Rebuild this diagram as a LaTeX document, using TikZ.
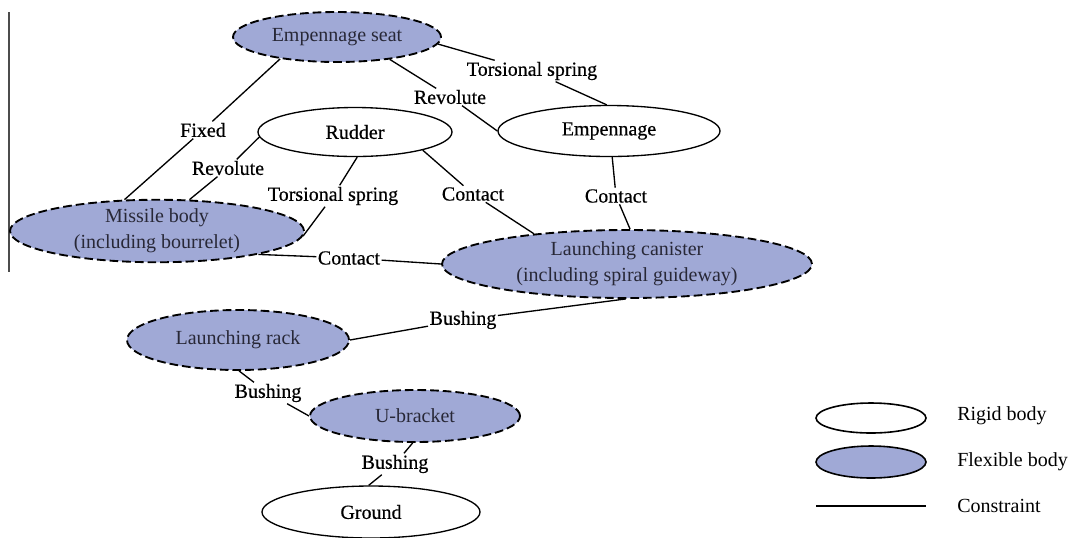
\documentclass[tikz,border=0pt]{standalone}
\usepackage{fontspec}
\setmainfont{Liberation Serif}
\newfontfamily\lblfont{Liberation Serif}[FakeBold=0.5]
\usetikzlibrary{shapes.geometric}
\definecolor{flex}{RGB}{160,169,214}
\definecolor{flextext}{RGB}{40,40,55}
\tikzset{
  body/.style={ellipse, draw, line width=1pt, inner sep=0pt, align=center,
    font=\fontsize{15}{19.5}\selectfont},
  rigid/.style={body, font=\lblfont\fontsize{15}{19.5}\selectfont},
  flexb/.style={body, fill=flex, line width=1.4pt, text=flextext, dash pattern=on 6.5pt off 3pt},
  lbl/.style={inner sep=1pt, font=\lblfont\fontsize{15}{18}\selectfont},
  con/.style={line width=1pt},
  legtxt/.style={anchor=west, inner sep=0pt, font=\fontsize{15}{18}\selectfont},
}
\begin{document}
\begin{tikzpicture}[x=0.75pt,y=-0.75pt]
\useasboundingbox (0,0) rectangle (1070,537);

% left edge line
\coordinate (vl1) at (9,12);
\coordinate (vl2) at (9,272);
\draw[line width=0.8pt, black!70] (vl1) -- (vl2);

% bodies
\node[flexb, minimum width=156pt, minimum height=37.5pt] (seat) at (337,37) {Empennage seat};
\node[rigid, minimum width=145.5pt, minimum height=36.75pt] (rud) at (355,132) {Rudder};
\node[rigid, minimum width=166.5pt, minimum height=38.25pt] (emp) at (609,131) {Empennage};
\node[flexb, minimum width=220.5pt, minimum height=46.5pt] (mis) at (157,231) {Missile body\\(including bourrelet)};
\node[flexb, minimum width=277.5pt, minimum height=51pt] (can) at (627,264) {Launching canister\\(including spiral guideway)};
\node[flexb, minimum width=166.5pt, minimum height=45pt] (rack) at (238,340) {Launching rack};
\node[flexb, minimum width=157.5pt, minimum height=39pt] (ub) at (415,416) {U-bracket};
\node[rigid, minimum width=163.5pt, minimum height=39pt] (gnd) at (371,512) {Ground};

% constraint labels
\node[lbl] (l1) at (532,71) {Torsional spring};
\node[lbl] (l2) at (450,97) {Revolute};
\node[lbl] (l3) at (203,130) {Fixed};
\node[lbl] (l4) at (228,168) {Revolute};
\node[lbl] (l5) at (333,196) {Torsional spring};
\node[lbl] (l6) at (473,194) {Contact};
\node[lbl] (l7) at (616,196) {Contact};
\node[lbl] (l8) at (349,258) {Contact};
\node[lbl] (l9) at (463,320) {Bushing};
\node[lbl] (l10) at (268,393) {Bushing};
\node[lbl] (l11) at (395,464) {Bushing};

% connectors
\draw[con] (seat.356) -- (l1) -- (emp.95);
\draw[con] (seat.337) -- (l2) -- (emp.180);
\draw[con] (seat.201) -- (l3) -- (mis.136);
\draw[con] (rud.183) -- (l4) -- (mis.44);
\draw[con] (rud.275) -- (l5) -- (mis.358);
\draw[con] (rud.345) -- (l6) -- (can.162);
\draw[con] (emp.277) -- (l7) -- (can.85);
\draw[con] (mis.347) -- (l8) -- (can.180);
\draw[con] (rack.0) -- (l9) -- (can.268);
\draw[con] (rack.272) -- (l10) -- (ub.180);
\draw[con] (ub.265) -- (l11) -- (gnd.95);

% legend
\node[ellipse, draw, line width=1.2pt, inner sep=0pt, minimum width=82.5pt, minimum height=22.5pt] (legr) at (871,418) {};
\node[ellipse, draw, fill=flex, line width=1.2pt, inner sep=0pt, minimum width=82.5pt, minimum height=24pt] (legf) at (871,462) {};
\coordinate (lc1) at (816,506);
\coordinate (lc2) at (926,506);
\draw[con] (lc1) -- (lc2);
\node[legtxt] (tr) at (957,416) {Rigid body};
\node[legtxt] (tf) at (957,462) {Flexible body};
\node[legtxt] (tc) at (957,506) {Constraint};
\end{tikzpicture}
\end{document}
